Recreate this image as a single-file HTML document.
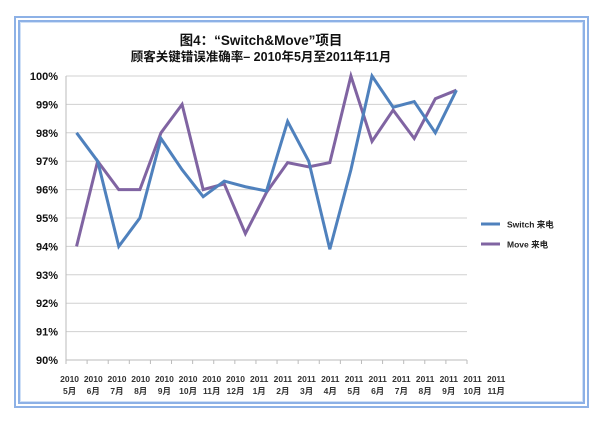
<!DOCTYPE html>
<html><head><meta charset="utf-8"><style>
body{margin:0;background:#fff;width:600px;height:424px;overflow:hidden;font-family:"Liberation Sans","Noto Sans CJK SC",sans-serif}
#frame{position:absolute;left:14px;top:16px;width:563px;height:380px;border:6px double #8db1e6;box-shadow:inset 0 0 0 1px #cfe0f7}
</style></head><body>
<div id="frame"></div>
<svg id="c" width="600" height="424" style="position:absolute;left:0;top:0"></svg>
<script>
const categories=["2010|5月","2010|6月","2010|7月","2010|8月","2010|9月","2010|10月","2010|11月","2010|12月","2011|1月","2011|2月","2011|3月","2011|4月","2011|5月","2011|6月","2011|7月","2011|8月","2011|9月","2011|10月","2011|11月"];
const switchVals=[98,97,94,95,97.8,96.7,95.75,96.3,96.1,95.95,98.4,97.0,93.9,96.7,100,98.9,99.1,98.0,99.5];
const moveVals=[94,97,96,96,98,99,96,96.2,94.45,95.9,96.95,96.8,96.95,100,97.7,98.8,97.8,99.2,99.5];
const yTicks=[90,91,92,93,94,95,96,97,98,99,100];
const NS="http://www.w3.org/2000/svg";
const svg=document.getElementById('c');
const x0=66,x1=467,yTop=76,yBot=360;
const bw=(x1-x0)/categories.length;
const xs=i=>x0+bw*(i+0.5);
const ys=v=>yBot-(v-90)/10*(yBot-yTop);
function mk(t,a){const e=document.createElementNS(NS,t);for(const k in a)e.setAttribute(k,a[k]);svg.appendChild(e);return e;}
let t=mk('text',{x:261,y:45,'text-anchor':'middle','font-size':13.5,'font-weight':'bold',fill:'#111'});t.textContent='图4：“Switch&Move”项目';

t=mk('text',{x:261,y:61,'text-anchor':'middle','font-size':12.5,'font-weight':'bold',fill:'#111'});t.textContent='顾客关键错误准确率– 2010年5月至2011年11月';

yTicks.forEach(v=>{
 const l=mk('line',{x1:x0,x2:x1,y1:ys(v),y2:ys(v),stroke:v===90?'#bbb':'#d0d0d0','stroke-width':1});
 
 const tx=mk('text',{x:58,y:ys(v)+4,'text-anchor':'end','font-size':11,'font-weight':'bold',fill:'#111'});tx.textContent=v+'%';
 
});
mk('line',{x1:x0,x2:x0,y1:yTop,y2:yBot,stroke:'#bbb'});
for(let i=0;i<=categories.length;i++){mk('line',{x1:x0+bw*i,x2:x0+bw*i,y1:yBot,y2:yBot+4,stroke:'#bbb'});}
categories.forEach((c,i)=>{
 const [yr,m]=c.split('|');const cx=69.6+i*23.7;
 const a=mk('text',{x:cx,y:382,'text-anchor':'middle','font-size':8.5,'font-weight':'bold',fill:'#333'});a.textContent=yr;
 
 const b=mk('text',{x:cx,y:394,'text-anchor':'middle','font-size':8.5,'font-weight':'bold',fill:'#333'});b.textContent=m;
 
});
function series(vals,col,name){
 const p=mk('polyline',{points:vals.map((v,i)=>xs(i)+','+ys(v)).join(' '),fill:'none',stroke:col,'stroke-width':3,'stroke-linejoin':'miter'});
 
}
series(moveVals,'#8064a2','move-line');
series(switchVals,'#4f81bd','switch-line');
[['Switch 来电','#4f81bd',224,'legend-switch'],['Move 来电','#8064a2',244,'legend-move']].forEach(L=>{
 const l=mk('line',{x1:481,x2:500,y1:L[2],y2:L[2],stroke:L[1],'stroke-width':3});
 
 const tx=mk('text',{x:507,y:L[2]+3.5,'font-size':8.5,'font-weight':'bold',fill:'#222'});tx.textContent=L[0];
 
});
</script>
</body></html>
